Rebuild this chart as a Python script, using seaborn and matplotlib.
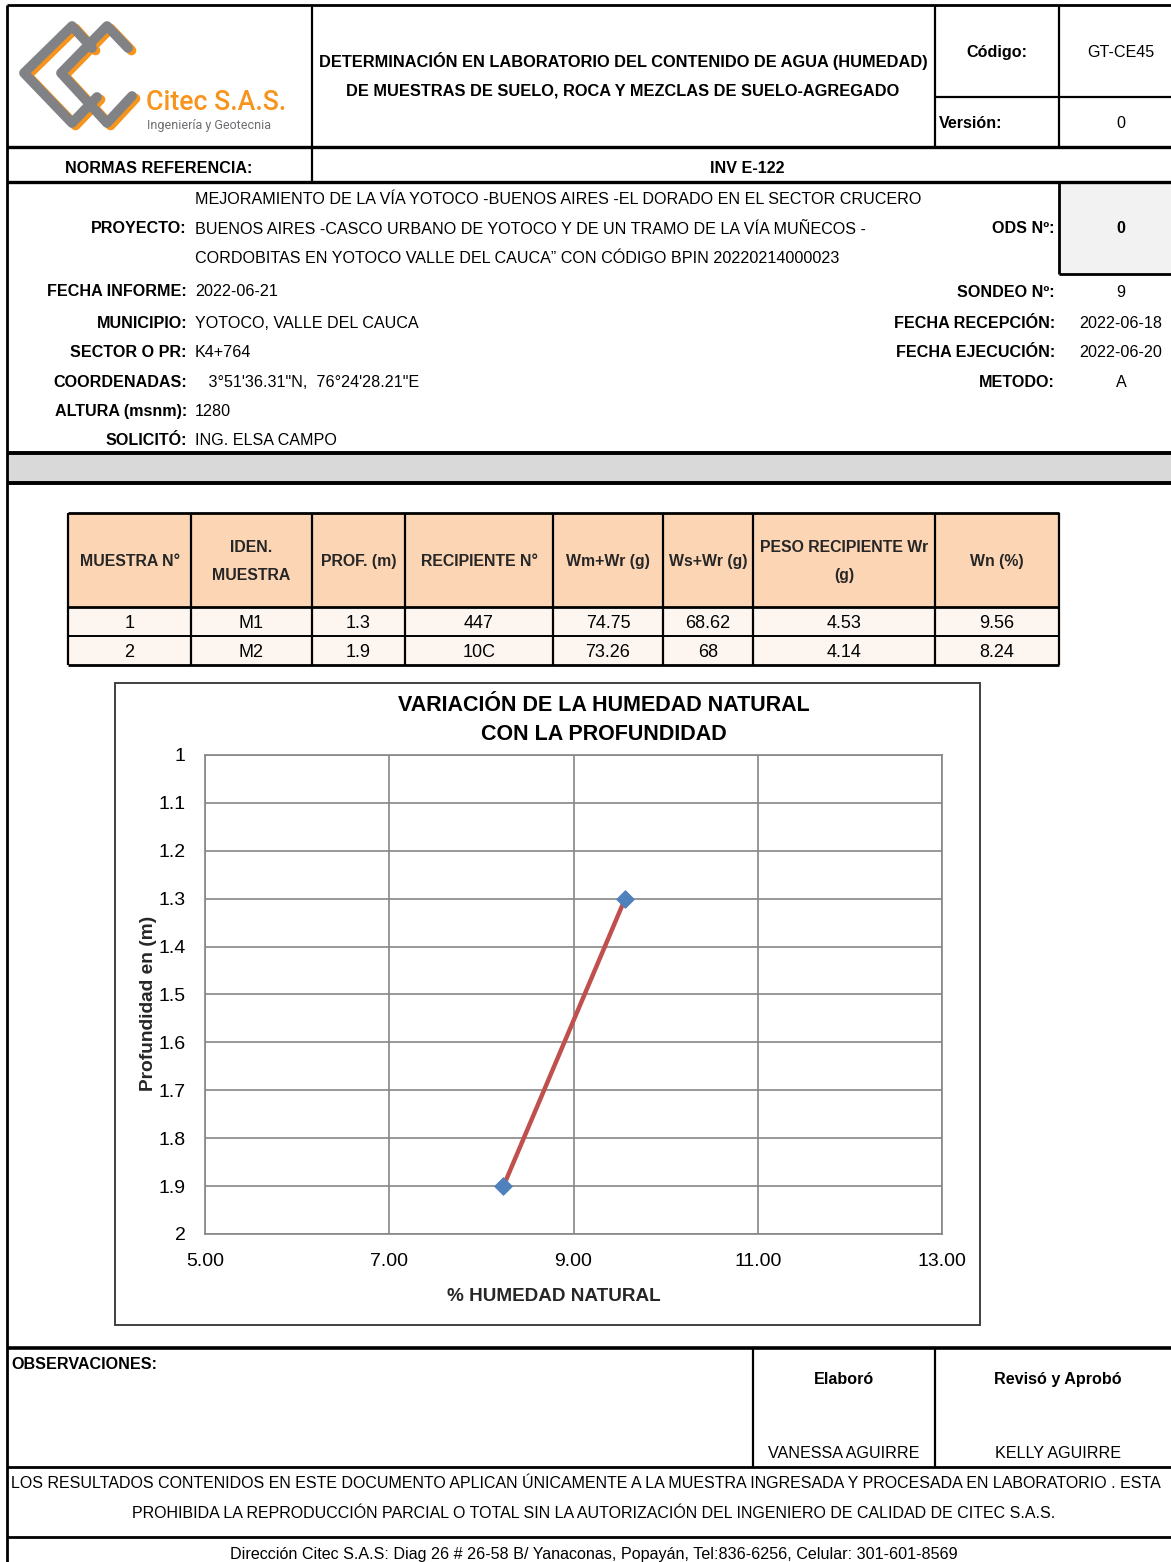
import matplotlib
matplotlib.use("Agg")
import matplotlib.pyplot as plt
import seaborn as sns
import pandas as pd
from matplotlib.patches import Rectangle

sns.set_style("white")
plt.rcParams["font.family"] = ["Liberation Sans Narrow", "Liberation Sans", "DejaVu Sans"]

# Datos del ensayo
muestra = ["1", "2"]
iden_muestra = ["M1", "M2"]
prof_m = [1.3, 1.9]
recipiente = ["447", "10C"]
wm_wr = ["74.75", "73.26"]
ws_wr = ["68.62", "68"]
peso_wr = ["4.53", "4.14"]
wn = [9.56, 8.24]

encabezados = ["MUESTRA N°", "IDEN.\nMUESTRA", "PROF. (m)", "RECIPIENTE N°",
               "Wm+Wr (g)", "Ws+Wr (g)", "PESO RECIPIENTE Wr\n(g)", "Wn (%)"]

x_ticks = [5, 7, 9, 11, 13]
x_tick_labels = ["5.00", "7.00", "9.00", "11.00", "13.00"]
y_ticks = [1, 1.1, 1.2, 1.3, 1.4, 1.5, 1.6, 1.7, 1.8, 1.9, 2]
y_tick_labels = ["1", "1.1", "1.2", "1.3", "1.4", "1.5", "1.6", "1.7", "1.8", "1.9", "2"]

proyecto = ["MEJORAMIENTO DE LA VÍA YOTOCO -BUENOS AIRES -EL DORADO EN EL SECTOR CRUCERO",
            "BUENOS AIRES -CASCO URBANO DE YOTOCO Y DE UN TRAMO DE LA VÍA MUÑECOS -",
            "CORDOBITAS EN YOTOCO VALLE DEL CAUCA\u201d CON CÓDIGO BPIN 20220214000023"]
datos_izq = [("FECHA INFORME:", "2022-06-21"), ("MUNICIPIO:", "YOTOCO, VALLE DEL CAUCA"),
             ("SECTOR O PR:", "K4+764"), ("COORDENADAS:", "   3°51'36.31\"N,  76°24'28.21\"E"),
             ("ALTURA (msnm):", "1280"), ("SOLICITÓ:", "ING. ELSA CAMPO")]
datos_der = [("SONDEO Nº:", "9"), ("FECHA RECEPCIÓN:", "2022-06-18"),
             ("FECHA EJECUCIÓN:", "2022-06-20"), ("METODO:", "A")]

W, H = 1171, 1562
fig = plt.figure(figsize=(W / 100, H / 100), dpi=100)
bg = fig.add_axes([0, 0, 1, 1])
bg.set_xlim(0, W)
bg.set_ylim(H, 0)
bg.axis("off")

FS = 11.6


def hl(y, x0=7, x1=W, lw=2.0):
    bg.plot([x0, x1], [y, y], color="black", lw=lw, solid_capstyle="butt")


def vl(x, y0, y1, lw=1.6):
    bg.plot([x, x], [y0, y1], color="black", lw=lw, solid_capstyle="butt")


def tx(x, y, s, ha="left", bold=False, size=FS, color="black", **kw):
    bg.text(x, y + 1.5, s, ha=ha, va="center", fontsize=size, color=color,
            fontweight="bold" if bold else "normal", **kw)


# --- Encabezado ---
hl(5, lw=2.0)
vl(7, 5, H, lw=2.0)
for x in [312, 935, 1059]:
    vl(x, 5, 147)
hl(97, 935, W, lw=1.6)
hl(147, lw=2.4)
vl(312, 147, 182)
hl(182, lw=2.4)

# logo
c_gris, c_nar = "#808285", "#f7941d"
logo = [[(92, 48), (72, 26), (24, 73), (72, 123), (97, 97)],
        [(128, 48), (107, 26), (61, 73), (107, 123), (132, 96)]]
for pts in logo:
    xs = [p[0] + 3.5 for p in pts]
    ys = [p[1] + 2.5 for p in pts]
    bg.plot(xs, ys, color=c_nar, lw=7, solid_capstyle="round", solid_joinstyle="round")
for pts in logo:
    bg.plot([p[0] for p in pts], [p[1] for p in pts], color=c_gris, lw=7,
            solid_capstyle="round", solid_joinstyle="round")
bg.text(146, 103, "Citec S.A.S.", ha="left", va="center", fontsize=19.2, color=c_nar,
        family=["Roboto", "DejaVu Sans"], fontweight="medium")
bg.text(147, 126, "Ingeniería y Geotecnia", ha="left", va="center", fontsize=9,
        color="#6d6e71", family=["Roboto", "DejaVu Sans"])

tx(623, 60, "DETERMINACIÓN EN LABORATORIO DEL CONTENIDO DE AGUA (HUMEDAD)", ha="center",
   bold=True, size=11.8)
tx(623, 89, "DE MUESTRAS DE SUELO, ROCA Y MEZCLAS DE SUELO-AGREGADO", ha="center",
   bold=True, size=11.8)
tx(997, 51, "Código:", ha="center", bold=True)
tx(1121, 51, "GT-CE45", ha="center")
tx(939, 122, "Versión:", bold=True)
tx(1121, 122, "0", ha="center")
tx(159, 167, "NORMAS REFERENCIA:", ha="center", bold=True)
tx(747, 167, "INV E-122", ha="center", bold=True)

# --- Datos del proyecto ---
bg.add_patch(Rectangle((1059, 182), W - 1059, 92, facecolor="#f2f2f2", edgecolor="none"))
vl(1059, 182, 274, lw=2.0)
hl(274, 1059, W, lw=2.0)
tx(187, 227, "PROYECTO:", ha="right", bold=True)
for i, linea in enumerate(proyecto):
    tx(195, 198 + i * 29.5, linea)
tx(1055, 227, "ODS Nº:", ha="right", bold=True)
tx(1121, 227, "0", ha="center", bold=True)
for i, (lab, val) in enumerate(datos_izq):
    y = [290, 322, 351, 381, 410, 439][i]
    tx(187, y, lab, ha="right", bold=True)
    tx(195, y, val)
for i, (lab, val) in enumerate(datos_der):
    y = [291, 322, 351, 381][i]
    tx(1055, y, lab, ha="right", bold=True)
    tx(1121, y, val, ha="center")

bg.add_patch(Rectangle((7, 453), W - 7, 30, facecolor="#d9d9d9", edgecolor="none"))
hl(453, lw=2.8)
hl(483, lw=2.8)

# --- Tabla ---
cols = [68, 191, 312, 405, 553, 663, 753, 935, 1059]
bg.add_patch(Rectangle((68, 513), 1059 - 68, 94, facecolor="#fcd5b4", edgecolor="none"))
bg.add_patch(Rectangle((68, 607), 1059 - 68, 58, facecolor="#fdf6f0", edgecolor="none"))
for x in cols:
    vl(x, 513, 665, lw=1.6)
hl(513, 68, 1059, lw=2.0)
hl(607, 68, 1059, lw=2.0)
hl(636, 68, 1059, lw=1.4)
hl(665, 68, 1059, lw=2.0)
for j, h in enumerate(encabezados):
    xc = (cols[j] + cols[j + 1]) / 2
    bg.text(xc, 561.5, h, ha="center", va="center", fontsize=11.4, fontweight="bold",
            linespacing=2.1)
filas = list(zip(muestra, iden_muestra, [str(p) for p in prof_m], recipiente,
                 wm_wr, ws_wr, peso_wr, [f"{v:.2f}" for v in wn]))
for i, fila in enumerate(filas):
    y = 622 + i * 29
    for j, val in enumerate(fila):
        xc = (cols[j] + cols[j + 1]) / 2
        tx(xc, y, val, ha="center", size=13)

# --- Grafico ---
bg.add_patch(Rectangle((115, 683), 980 - 115, 1325 - 683, facecolor="white",
                       edgecolor="#404040", lw=1.4))
tx(604, 704, "VARIACIÓN DE LA HUMEDAD NATURAL", ha="center", bold=True, size=15.5)
tx(604, 733, "CON LA PROFUNDIDAD", ha="center", bold=True, size=15.5)

ax = fig.add_axes([205 / W, 1 - 1234 / H, (942 - 205) / W, (1234 - 755) / H])
df = pd.DataFrame({"wn": wn, "prof": prof_m})
sns.lineplot(data=df, x="wn", y="prof", sort=False, color="#c0504d", lw=3.2, ax=ax, zorder=3)
sns.scatterplot(data=df, x="wn", y="prof", marker="D", s=80, color="#4f81bd",
                edgecolor="#4f81bd", ax=ax, zorder=4)
ax.set_xlim(5, 13)
ax.set_ylim(2, 1)
ax.set_xticks(x_ticks)
ax.set_xticklabels(x_tick_labels)
ax.set_yticks(y_ticks)
ax.set_yticklabels(y_tick_labels)
ax.grid(True, color="#868686", lw=1.2)
ax.set_axisbelow(True)
for sp in ax.spines.values():
    sp.set_color("#868686")
    sp.set_linewidth(1.2)
ax.tick_params(length=0, labelsize=14, colors="black")
ax.tick_params(axis="y", pad=14)
ax.tick_params(axis="x", pad=14)
ax.set_xlabel("% HUMEDAD NATURAL", fontsize=13.6, fontweight="bold")
ax.set_ylabel("Profundidad en (m)", fontsize=13.8, fontweight="bold")
ax.xaxis.set_label_coords((554 - 205) / 737, -0.112)
ax.yaxis.set_label_coords((157 - 205) / 737, 0.482)

# --- Pie ---
hl(1348, lw=2.6)
vl(753, 1348, 1467)
vl(935, 1348, 1467)
hl(1467, lw=2.0)
tx(11, 1363, "OBSERVACIONES:", bold=True)
tx(844, 1378, "Elaboró", ha="center", bold=True)
tx(1058, 1378, "Revisó y Aprobó", ha="center", bold=True)
tx(844, 1452, "VANESSA AGUIRRE", ha="center")
tx(1058, 1452, "KELLY AGUIRRE", ha="center")
tx(11, 1482, "LOS RESULTADOS CONTENIDOS EN ESTE DOCUMENTO APLICAN ÚNICAMENTE A LA MUESTRA "
   "INGRESADA Y PROCESADA EN LABORATORIO . ESTA", size=11.5)
tx(594, 1512, "PROHIBIDA LA REPRODUCCIÓN PARCIAL O TOTAL SIN LA AUTORIZACIÓN DEL INGENIERO DE "
   "CALIDAD DE CITEC S.A.S.", ha="center", size=11.5)
hl(1537, lw=2.0)
tx(594, 1553, "Dirección Citec S.A.S: Diag 26 # 26-58 B/ Yanaconas, Popayán, Tel:836-6256, "
   "Celular: 301-601-8569", ha="center", size=11.6)

fig.savefig("out.png", dpi=100, facecolor="white")
